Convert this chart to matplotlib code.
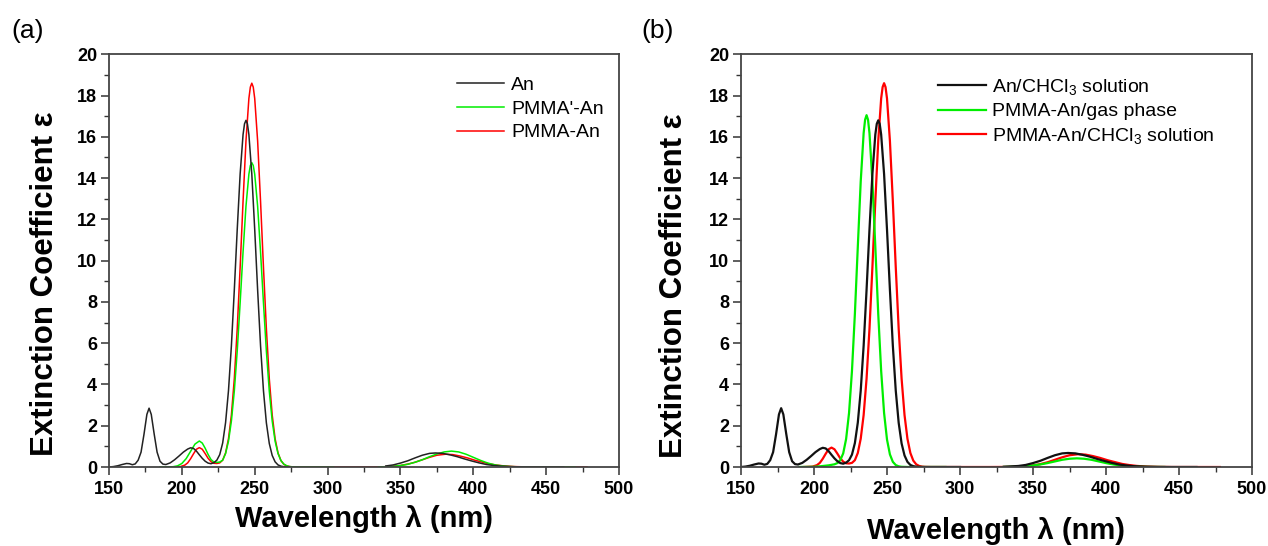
import numpy as np
import matplotlib
matplotlib.use("Agg")
import matplotlib.pyplot as plt
from matplotlib.ticker import MultipleLocator

plt.rcParams['font.family'] = ['Liberation Sans', 'DejaVu Sans']
plt.rcParams['mathtext.fontset'] = 'custom'
plt.rcParams['mathtext.rm'] = 'Liberation Sans'
plt.rcParams['mathtext.it'] = 'Liberation Sans:italic'
plt.rcParams['mathtext.bf'] = 'Liberation Sans:bold'

# ---------------- data (wavelength nm, extinction coefficient) ----------------
an_wl = [150, 153, 156, 159, 162, 164, 166, 168, 170, 172, 174, 176, 177.5, 179, 181, 183, 185, 187,
         189, 192, 195, 198, 201, 204, 206, 208, 210, 212, 214, 216, 218, 220, 222, 224, 226, 228,
         230, 232, 234, 236, 238, 240, 242, 243, 244, 245, 246, 248, 250, 252, 254, 256, 258, 260,
         262, 264, 266, 268, 270, 274, 280, 300, 320, 330, 340, 345, 350, 355, 360, 365, 370, 374,
         379, 384, 389, 394, 399, 404, 409, 414, 419, 426, 435, 445, 462]
an_eps = [0.0, 0.02, 0.06, 0.12, 0.17, 0.16, 0.11, 0.15, 0.33, 0.72, 1.58, 2.55, 2.85, 2.55, 1.6, 0.72, 0.28, 0.14,
          0.12, 0.2, 0.35, 0.53, 0.72, 0.87, 0.93, 0.9, 0.77, 0.59, 0.42, 0.28, 0.19, 0.16, 0.21, 0.33, 0.6, 1.16,
          2.15, 3.70, 5.88, 8.58, 11.51, 14.20, 16.11, 16.63, 16.8, 16.63, 16.11, 14.20, 11.51, 8.58, 5.88, 3.70, 2.14, 1.14,
          0.56, 0.25, 0.10, 0.04, 0.014, 0.0, 0.0, 0.0, 0.0, 0.01, 0.05, 0.10, 0.19, 0.30, 0.44, 0.57, 0.66, 0.68,
          0.66, 0.59, 0.50, 0.39, 0.29, 0.20, 0.12, 0.074, 0.04, 0.016, 0.004, 0.0, 0.0]

pmma_wl = [193, 196, 199, 202, 204, 206, 208, 210, 212, 214, 216, 218, 220, 222, 224, 226, 228, 230,
           232, 234, 236, 238, 240, 242, 244, 246, 247, 248, 249, 250, 252, 254, 256, 258, 260, 262,
           264, 266, 268, 270, 272, 274, 276, 280, 300, 320, 335, 340, 345, 350, 355, 360, 365, 370, 375,
           381, 386, 391, 396, 401, 406, 411, 416, 421, 428, 436, 445, 478]
pmma_eps = [0.0, 0.01, 0.02, 0.09, 0.2, 0.4, 0.64, 0.86, 0.94, 0.86, 0.65, 0.42, 0.26, 0.18, 0.17, 0.2, 0.33, 0.68,
            1.37, 2.52, 4.28, 6.70, 9.68, 12.88, 15.80, 17.86, 18.41, 18.6, 18.41, 17.86, 15.80, 12.88, 9.68, 6.70, 4.28, 2.52,
            1.37, 0.68, 0.31, 0.13, 0.052, 0.019, 0.006, 0.0, 0.0, 0.0, 0.005, 0.015, 0.035, 0.073, 0.14, 0.23, 0.35, 0.47, 0.57,
            0.62, 0.60, 0.53, 0.44, 0.33, 0.24, 0.15, 0.094, 0.053, 0.02, 0.006, 0.0, 0.0]

pmmap_wl = [185, 190, 194, 197, 200, 203, 206, 209, 212, 214, 216, 218, 220, 222, 224, 226, 228, 230,
            232, 234, 236, 238, 240, 242, 244, 246, 247, 248, 249, 250, 252, 254, 256, 258, 260, 262,
            264, 266, 268, 270, 272, 274, 276, 280, 304, np.nan, 335, 340, 345, 350, 355, 360, 365, 370, 375,
            380, 385, 390, 395, 400, 405, 410, 415, 420, 425, 432, 440, 470]
pmmap_eps = [0.0, 0.0, 0.014, 0.055, 0.17, 0.41, 0.76, 1.11, 1.26, 1.16, 0.91, 0.61, 0.36, 0.24, 0.22, 0.24, 0.33, 0.65,
             1.25, 2.23, 3.68, 5.62, 7.96, 10.42, 12.64, 14.19, 14.61, 14.75, 14.61, 14.19, 12.64, 10.42, 7.96, 5.62, 3.68, 2.23,
             1.25, 0.65, 0.31, 0.14, 0.057, 0.022, 0.008, 0.0, 0.0, np.nan, 0.005, 0.015, 0.034, 0.07, 0.13, 0.23, 0.35, 0.50, 0.63,
             0.73, 0.77, 0.73, 0.62, 0.47, 0.32, 0.19, 0.10, 0.05, 0.022, 0.006, 0.0, 0.0]

gas_wl = [190, 195, 200, 205, 210, 214, 216, 218, 220, 222, 224, 226, 228, 230, 232, 234, 235, 236,
          237, 238, 240, 242, 244, 246, 248, 250, 252, 254, 256, 258, 260, 264, 290, np.nan, 330, 340, 345,
          350, 355, 360, 365, 370, 375, 380, 385, 390, 395, 400, 405, 410, 415, 420, 430, 440]
gas_eps = [0.0, 0.005, 0.01, 0.04, 0.08, 0.13, 0.19, 0.33, 0.66, 1.36, 2.62, 4.65, 7.42, 10.67, 13.84, 16.18, 16.83, 17.05,
           16.83, 16.18, 13.84, 10.67, 7.42, 4.65, 2.62, 1.33, 0.61, 0.25, 0.094, 0.032, 0.01, 0.0, 0.0, np.nan, 0.003, 0.018, 0.038,
           0.072, 0.124, 0.19, 0.27, 0.35, 0.40, 0.42, 0.40, 0.35, 0.27, 0.19, 0.124, 0.072, 0.038, 0.018, 0.003, 0.0]

labels_a = ["An", "PMMA'-An", "PMMA-An"]
labels_b = ["An/CHCl$_3$ solution", "PMMA-An/gas phase", "PMMA-An/CHCl$_3$ solution"]
panel_tags = ["(a)", "(b)"]
xlabel = "Wavelength λ (nm)"
ylabel = "Extinction Coefficient ε"

# ---------------- figure ----------------
W, H = 1268, 546
fig = plt.figure(figsize=(W / 100, H / 100), dpi=100)

def px_axes(x0, x1, ytop, ybot):
    return [x0 / W, 1 - ybot / H, (x1 - x0) / W, (ybot - ytop) / H]

axA = fig.add_axes(px_axes(109, 619, 54.3, 467))
axB = fig.add_axes(px_axes(741, 1252, 54.3, 467))

def masked(wl, eps, lo, hi):
    wl = np.asarray(wl, float)
    e = np.asarray(eps, float).copy()
    e[(wl > lo) & (wl < hi)] = np.nan
    return wl, e

BLACK, GREEN, RED = '#111111', '#00ee00', '#ff0000'

# panel (a)
lw_a = 1.1
r_line, = axA.plot(pmma_wl, pmma_eps, color=RED, lw=lw_a)
g_line, = axA.plot(pmmap_wl, pmmap_eps, color=GREEN, lw=lw_a)
bw, be = masked(an_wl, an_eps, 274, 338)
k_line, = axA.plot(bw, be, color='#222222', lw=lw_a)
legA = axA.legend([k_line, g_line, r_line], labels_a, loc='upper left',
                  bbox_to_anchor=(0.682, 0.947), frameon=False, fontsize=14,
                  handlelength=2.45, handletextpad=0.35, labelspacing=0.32,
                  borderpad=0, borderaxespad=0)

# panel (b)
lw_b = 1.6
r2, = axB.plot(pmma_wl, pmma_eps, color=RED, lw=lw_b)
g2, = axB.plot(gas_wl, gas_eps, color=GREEN, lw=lw_b)
bw2, be2 = masked(an_wl, an_eps, 308, 326)
k2, = axB.plot(bw2, be2, color=BLACK, lw=lw_b)
legB = axB.legend([k2, g2, r2], labels_b, loc='upper left',
                  bbox_to_anchor=(0.3855, 0.945), frameon=False, fontsize=14,
                  handlelength=2.45, handletextpad=0.35, labelspacing=0.3,
                  borderpad=0, borderaxespad=0)

for ax in (axA, axB):
    ax.set_xlim(150, 500)
    ax.set_ylim(0, 20)
    ax.xaxis.set_major_locator(MultipleLocator(50))
    ax.xaxis.set_minor_locator(MultipleLocator(25))
    ax.yaxis.set_major_locator(MultipleLocator(2))
    ax.yaxis.set_minor_locator(MultipleLocator(1))
    ax.tick_params(which='major', direction='out', length=6, width=1.1, color='#333333')
    ax.tick_params(which='minor', direction='out', length=3.5, width=1.0, color='#333333')
    ax.tick_params(axis='x', which='major', pad=4)
    ax.tick_params(axis='y', which='major', pad=2.5)
    for sp in ax.spines.values():
        sp.set_color('#444444')
        sp.set_linewidth(1.3)
    for lab in ax.get_xticklabels() + ax.get_yticklabels():
        lab.set_fontweight('bold')
        lab.set_fontsize(13)

# axis labels
fig.text(364 / W, 1 - 519 / H, xlabel, fontsize=21, fontweight='bold', ha='center', va='center')
fig.text(996 / W, 1 - 531 / H, xlabel, fontsize=21, fontweight='bold', ha='center', va='center')
fig.text(45 / W, 1 - 284 / H, ylabel, fontsize=22.5, fontweight='bold', ha='center', va='center', rotation=90)
fig.text(674 / W, 1 - 286 / H, ylabel, fontsize=22.5, fontweight='bold', ha='center', va='center', rotation=90)

# panel tags
fig.text(28 / W, 1 - 31 / H, panel_tags[0], fontsize=19, ha='center', va='center')
fig.text(658 / W, 1 - 31 / H, panel_tags[1], fontsize=19, ha='center', va='center')

fig.savefig("out.png", dpi=100)
